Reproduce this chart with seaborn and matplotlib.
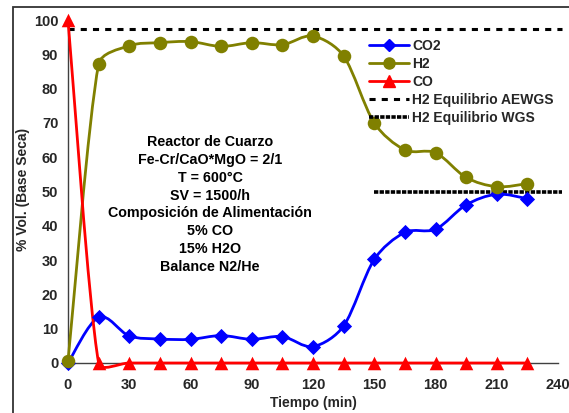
import numpy as np
import pandas as pd
import matplotlib
matplotlib.use("Agg")
import matplotlib.pyplot as plt
import seaborn as sns
from matplotlib.path import Path
from matplotlib.patches import PathPatch, Rectangle
from matplotlib.lines import Line2D

# ---- data ----
tiempo = [0, 15, 30, 45, 60, 75, 90, 105, 120, 135, 150, 165, 180, 195, 210, 225]
co2 = [0.0, 13.3, 7.9, 7.0, 6.9, 8.0, 6.9, 7.7, 4.8, 10.8, 30.2, 38.1, 39.0, 46.1, 49.2, 47.9]
h2 = [0.5, 87.1, 92.5, 93.4, 93.7, 92.3, 93.4, 92.8, 95.3, 89.5, 70.0, 62.1, 61.3, 54.1, 51.4, 52.3]
co = [100, 0, 0, 0, 0, 0, 0, 0, 0, 0, 0, 0, 0, 0, 0, 0]
eq_aewgs_x = [0, 242]
eq_aewgs_y = [97.3, 97.3]
eq_wgs_x = [150, 242]
eq_wgs_y = [50.0, 50.0]
annot_lines = ["Reactor de Cuarzo", "Fe-Cr/CaO*MgO = 2/1", "T = 600°C", "SV = 1500/h",
               "Composición de Alimentación", "5% CO", "15% H2O", "Balance N2/He"]
xticks = [0, 30, 60, 90, 120, 150, 180, 210, 240]
yticks = [0, 10, 20, 30, 40, 50, 60, 70, 80, 90, 100]

sns.set_theme(style="white")
plt.rcParams['font.family'] = ['Liberation Sans', 'DejaVu Sans']
plt.rcParams['font.weight'] = 'bold'

W, H = 569, 413
fig = plt.figure(figsize=(W / 100, H / 100), dpi=100)
ax = fig.add_axes([68 / W, (H - 363) / H, (558 - 68) / W, (363 - 20) / H])
ax.set_xlim(0, 240)
ax.set_ylim(0, 100)

# outer chart frame
fig.patches.append(Rectangle((13 / W, -0.1), 1.2, (H - 7) / H + 0.1, transform=fig.transFigure,
                             fill=False, edgecolor='#333333', linewidth=1.3))

def smooth_path(ax, xs, ys):
    pts = ax.transData.transform(np.column_stack([xs, ys]))
    n = len(pts)
    verts = [pts[0]]
    codes = [Path.MOVETO]
    for i in range(n - 1):
        p0 = pts[i - 1] if i > 0 else pts[i]
        p1 = pts[i]
        p2 = pts[i + 1]
        p3 = pts[i + 2] if i + 2 < n else pts[i + 1]
        d12 = np.linalg.norm(p2 - p1)
        t1 = (p2 - p0) / 6.0
        t2 = (p3 - p1) / 6.0
        lim = d12 / 3.0
        if np.linalg.norm(t1) > lim:
            t1 = t1 / np.linalg.norm(t1) * lim
        if np.linalg.norm(t2) > lim:
            t2 = t2 / np.linalg.norm(t2) * lim
        verts += [p1 + t1, p2 - t2, p2]
        codes += [Path.CURVE4] * 3
    dv = ax.transData.inverted().transform(np.array(verts))
    return Path(dv, codes)

df = pd.DataFrame({"t": tiempo, "CO2": co2, "H2": h2, "CO": co})
series = [("CO2", "#0000FF", "D", 60), ("H2", "#808000", "o", 95), ("CO", "#FF0000", "^", 95)]
for name, color, mk, sz in series:
    p = smooth_path(ax, df["t"].values, df[name].values)
    ax.add_patch(PathPatch(p, facecolor='none', edgecolor=color, linewidth=2.0, clip_on=False, zorder=3))
    sns.scatterplot(data=df, x="t", y=name, marker=mk, color=color, s=sz, edgecolor=color,
                    linewidth=0, ax=ax, clip_on=False, zorder=4, legend=False)

ax.plot(eq_aewgs_x, eq_aewgs_y, color='black', linewidth=2.2, linestyle=(0, (2.0, 2.0)), clip_on=False, zorder=2)
ax.plot(eq_wgs_x, eq_wgs_y, color='black', linewidth=2.6, linestyle=(0, (1.2, 0.35)), clip_on=False, zorder=2)

ax.text(69.6, 46.2, "\n".join(annot_lines), ha='center', va='center', fontsize=10.3,
        fontweight='bold', linespacing=1.35, color='black')

handles = [
    Line2D([], [], color="#0000FF", marker="D", markersize=6.5, linewidth=2.0),
    Line2D([], [], color="#808000", marker="o", markersize=8, linewidth=2.0),
    Line2D([], [], color="#FF0000", marker="^", markersize=8.5, linewidth=2.0),
    Line2D([], [], color="black", linewidth=2.2, linestyle=(0, (2.0, 2.0))),
    Line2D([], [], color="black", linewidth=2.6, linestyle=(0, (1.2, 0.35))),
]
labels = ["CO2", "H2", "CO", "H2 Equilibrio AEWGS", "H2 Equilibrio WGS"]
leg = ax.legend(handles, labels, loc='upper left', bbox_to_anchor=(0.601, 0.964), frameon=False,
                handlelength=2.85, handletextpad=0.25, labelspacing=0.28, borderpad=0,
                prop={'weight': 'bold', 'size': 10})

ax.set_xticks(xticks)
ax.set_yticks(yticks)
ax.set_xticklabels([str(v) for v in xticks], fontsize=10.5, fontweight='bold')
ax.set_yticklabels([str(v) for v in yticks], fontsize=10.5, fontweight='bold')
ax.tick_params(axis='y', direction='out', length=4, width=1, color='#404040', pad=3)
ax.tick_params(axis='x', direction='in', length=4, width=1, color='#404040', pad=11)
ax.set_xlabel("Tiempo (min)", fontsize=10, fontweight='bold', labelpad=3)
ax.set_ylabel("% Vol. (Base Seca)", fontsize=10, fontweight='bold')
ax.yaxis.set_label_coords(-0.077, 0.507)
for s in ['top', 'right']:
    ax.spines[s].set_visible(False)
for s in ['left', 'bottom']:
    ax.spines[s].set_color('#404040')
    ax.spines[s].set_linewidth(1.0)
ax.set_facecolor('white')

fig.savefig("out.png", dpi=100)
